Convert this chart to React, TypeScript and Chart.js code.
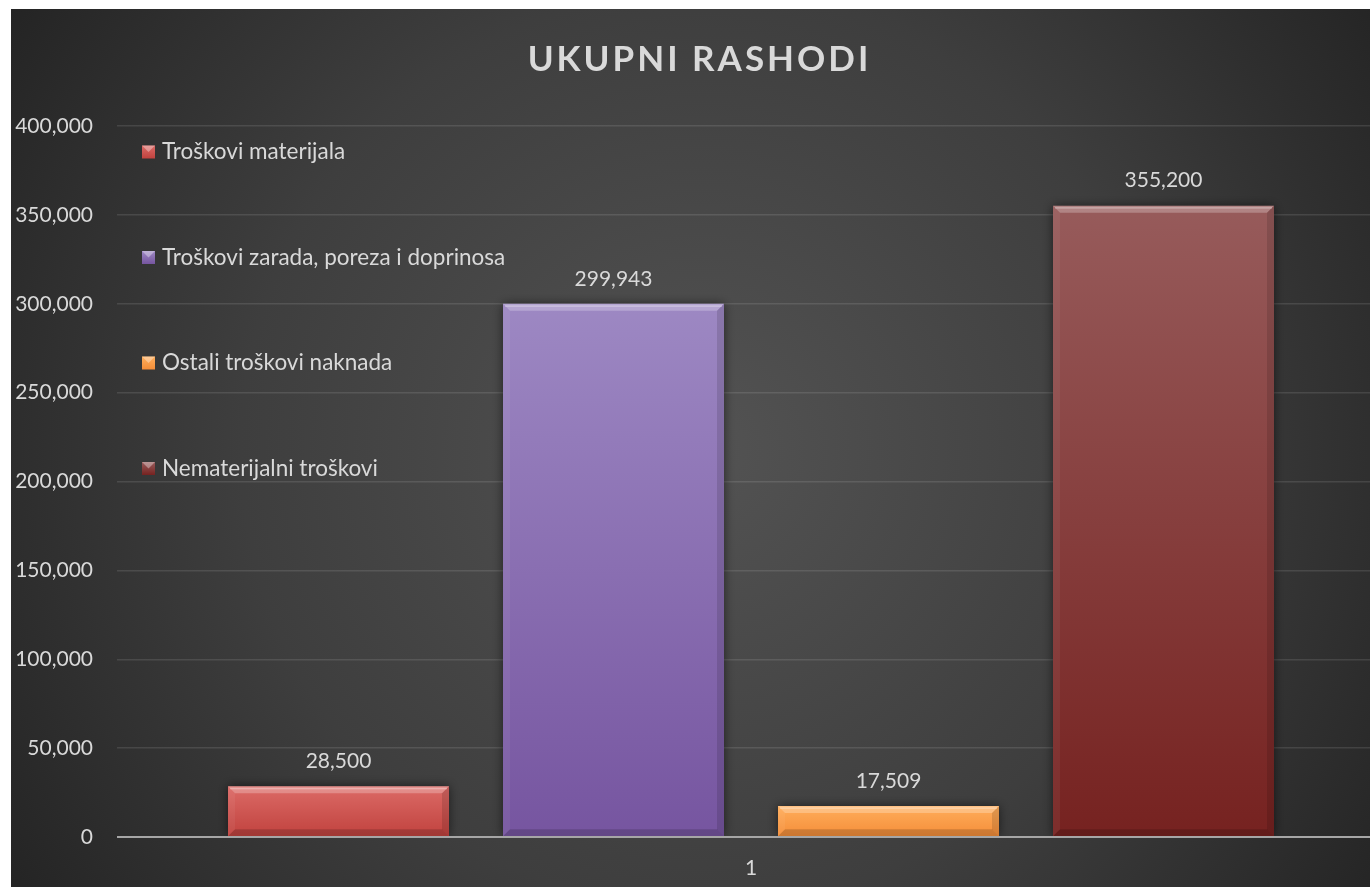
import React, { useEffect, useRef } from 'react';
import { Chart, registerables } from 'chart.js';

Chart.register(...registerables);

const titleText = 'UKUPNI RASHODI';
const categories = ['1'];
const seriesNames = [
  'Troškovi materijala',
  'Troškovi zarada, poreza i doprinosa',
  'Ostali troškovi naknada',
  'Nematerijalni troškovi',
];
const seriesValues = [28500, 299943, 17509, 355200];
const seriesTopColors = ['#dc6a66', '#9d88c3', '#ffae5c', '#975b5b'];
const seriesBottomColors = ['#c0423e', '#7655a0', '#f48d38', '#762220'];
const yMin = 0;
const yMax = 400000;
const yStep = 50000;

const FONT = 'Lato, "Open Sans", sans-serif';
const TEXT = '#d9d9d9';
const CW = 1374;
const CH = 878;

const fmt = (v: number) => v.toLocaleString('en-US');

const bgPlugin = {
  id: 'bg',
  beforeDraw(chart: any) {
    const { ctx } = chart;
    ctx.save();
    const g = ctx.createRadialGradient(690, 440, 20, 690, 440, 820);
    g.addColorStop(0, '#525252');
    g.addColorStop(0.55, '#3e3e3e');
    g.addColorStop(1, '#242424');
    ctx.fillStyle = g;
    ctx.fillRect(0, 0, chart.width, chart.height);
    // title
    ctx.font = `bold 35px ${FONT}`;
    (ctx as any).letterSpacing = '3px';
    ctx.fillStyle = TEXT;
    ctx.textAlign = 'center';
    ctx.textBaseline = 'middle';
    ctx.fillText(titleText, chart.width / 2 + 1.5, 51);
    ctx.restore();
  },
  beforeDatasetsDraw(chart: any) {
    const { ctx } = chart;
    ctx.save();
    ctx.shadowColor = 'rgba(0,0,0,0.55)';
    ctx.shadowBlur = 10;
    ctx.shadowOffsetX = 0;
    ctx.shadowOffsetY = 0;
  },
  afterDatasetsDraw(chart: any) {
    const { ctx } = chart;
    ctx.restore();
    ctx.save();
    chart.data.datasets.forEach((ds: any, i: number) => {
      const meta = chart.getDatasetMeta(i);
      meta.data.forEach((el: any, j: number) => {
        const { x, y, base, width } = el.getProps(['x', 'y', 'base', 'width'], true);
        const l = x - width / 2;
        const r = x + width / 2;
        const t = Math.min(y, base);
        const b = Math.max(y, base);
        const bv = 7;
        const poly = (pts: number[][], fill: string) => {
          ctx.beginPath();
          ctx.moveTo(pts[0][0], pts[0][1]);
          for (let k = 1; k < pts.length; k++) ctx.lineTo(pts[k][0], pts[k][1]);
          ctx.closePath();
          ctx.fillStyle = fill;
          ctx.fill();
        };
        poly([[l, t], [r, t], [r - bv, t + bv], [l + bv, t + bv]], 'rgba(255,255,255,0.25)');
        poly([[l, t], [l + bv, t + bv], [l + bv, b - bv], [l, b]], 'rgba(255,255,255,0.05)');
        poly([[r, t], [r - bv, t + bv], [r - bv, b - bv], [r, b]], 'rgba(0,0,0,0.12)');
        poly([[l, b], [l + bv, b - bv], [r - bv, b - bv], [r, b]], 'rgba(0,0,0,0.16)');
        ctx.fillStyle = 'rgba(255,255,255,0.3)';
        ctx.fillRect(l + 2, t + 1.5, width - 4, 1.5);
        // data label
        ctx.font = `21px ${FONT}`;
        ctx.fillStyle = TEXT;
        ctx.textAlign = 'center';
        ctx.textBaseline = 'middle';
        ctx.fillText(fmt(ds.data[j]), x, t - 25);
      });
    });
    // zero line on top of bars
    const ys = chart.scales.y;
    const y0 = ys.getPixelForValue(0);
    ctx.strokeStyle = '#a6a6a6';
    ctx.lineWidth = 2;
    ctx.beginPath();
    ctx.moveTo(chart.chartArea.left, y0);
    ctx.lineTo(chart.chartArea.right, y0);
    ctx.stroke();
    // legend
    const lx = 131;
    const ly0 = 143;
    const lstep = 105.5;
    chart.data.datasets.forEach((ds: any, i: number) => {
      const cy = ly0 + i * lstep;
      const s = 13;
      const bx = lx;
      const by = cy - s / 2;
      const g = ctx.createLinearGradient(0, by, 0, by + s);
      g.addColorStop(0, seriesTopColors[i]);
      g.addColorStop(1, seriesBottomColors[i]);
      ctx.fillStyle = g;
      ctx.fillRect(bx, by, s, s);
      ctx.fillStyle = 'rgba(255,255,255,0.35)';
      ctx.beginPath();
      ctx.moveTo(bx, by);
      ctx.lineTo(bx + s, by);
      ctx.lineTo(bx + s / 2, by + s / 2);
      ctx.closePath();
      ctx.fill();
      ctx.font = `22.5px ${FONT}`;
      ctx.fillStyle = TEXT;
      ctx.textAlign = 'left';
      ctx.textBaseline = 'middle';
      ctx.fillText(ds.label, lx + 20, cy);
    });
    ctx.restore();
  },
};

export default function App() {
  const ref = useRef<HTMLCanvasElement>(null);
  useEffect(() => {
    if (!ref.current) return;
    const chart = new Chart(ref.current, {
      type: 'bar',
      data: {
        labels: categories,
        datasets: seriesNames.map((name, i) => ({
          label: name,
          data: [seriesValues[i]],
          backgroundColor: (c: any) => {
            const ch = c.chart;
            const ys = ch.scales && ch.scales.y;
            if (!ys || !ch.chartArea) return seriesBottomColors[i];
            const v = c.dataset.data[c.dataIndex];
            const top = ys.getPixelForValue(v);
            const bot = ys.getPixelForValue(0);
            if (!isFinite(top) || !isFinite(bot) || top === bot) return seriesBottomColors[i];
            const g = ch.ctx.createLinearGradient(0, top, 0, bot);
            g.addColorStop(0, seriesTopColors[i]);
            g.addColorStop(1, seriesBottomColors[i]);
            return g;
          },
          borderWidth: 0,
          categoryPercentage: 0.8675,
          barPercentage: 0.8036,
        })),
      },
      options: {
        responsive: false,
        animation: false,
        layout: { padding: { top: 117, right: 0, left: 0, bottom: 0 } },
        plugins: {
          legend: { display: false },
          title: { display: false },
          tooltip: { enabled: false },
        },
        scales: {
          x: {
            grid: { display: false },
            border: { display: false },
            ticks: { color: TEXT, font: { family: FONT, size: 21 }, padding: 11 },
            afterFit: (s: any) => { s.height = 50; },
          },
          y: {
            min: yMin,
            max: yMax,
            border: { display: false },
            grid: {
              drawTicks: false,
              color: (c: any) => (c.tick && c.tick.value === 0 ? 'rgba(0,0,0,0)' : 'rgba(255,255,255,0.11)'),
              lineWidth: 1.5,
            },
            ticks: {
              stepSize: yStep,
              color: TEXT,
              font: { family: FONT, size: 21 },
              padding: 24,
              callback: (v: any) => fmt(Number(v)),
            },
            afterFit: (s: any) => { s.width = 106; },
          },
        },
      },
      plugins: [bgPlugin],
    });
    return () => chart.destroy();
  }, []);
  return (
    <div style={{ position: 'absolute', left: 11, top: 9, width: 1359, height: CH, overflow: 'hidden' }}>
      <canvas ref={ref} width={CW} height={CH} style={{ width: CW, height: CH, display: 'block' }} />
    </div>
  );
}
